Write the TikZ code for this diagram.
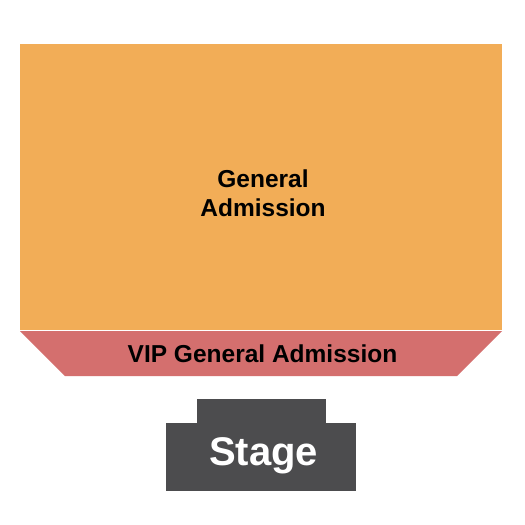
\documentclass[tikz,border=0pt]{standalone}
\usepackage{fontspec}
\setmainfont{Liberation Sans}
\definecolor{gacol}{HTML}{F2AD57}
\definecolor{vipcol}{HTML}{D46F6E}
\definecolor{stagecol}{HTML}{4C4C4E}
\tikzset{
  lbl/.style={font=\bfseries\fontsize{24.5}{28}\selectfont, text=black, inner sep=0pt, anchor=base},
  stagelbl/.style={font=\bfseries\fontsize{40}{44}\selectfont, text=white, inner sep=0pt, anchor=base},
}
\begin{document}
\begin{tikzpicture}[x=1pt,y=-1pt]
\useasboundingbox[fill=white] (0,0) rectangle (525,525);
% General Admission
\fill[gacol] (20,44) rectangle (502,330);
% VIP
\fill[vipcol] (20,331) -- (502,331) -- (457,376) -- (65,376) -- cycle;
% Stage
\fill[stagecol] (197,399) rectangle (326,424);
\fill[stagecol] (166,423) rectangle (356,491);
\node[lbl] (ga1) at (263,187) {General};
\node[lbl] (ga2) at (263,216) {Admission};
\node[lbl] (vip) at (262.5,362) {VIP General Admission};
\node[stagelbl] (stage) at (263.5,465) {Stage};
\end{tikzpicture}
\end{document}
